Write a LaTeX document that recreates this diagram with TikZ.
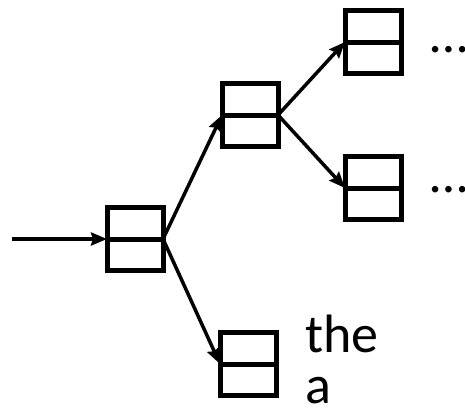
\documentclass[tikz,border=0pt]{standalone}
\usepackage{fontspec}
\setmainfont{Carlito}
\usetikzlibrary{arrows.meta}
\tikzset{
  cell/.style={draw=black, line width=5bp, minimum width=56bp, minimum height=63bp,
    inner sep=0pt, outer sep=0pt,
    path picture={\draw[line width=5bp] (path picture bounding box.west) -- (path picture bounding box.east);}},
  link/.style={line width=3.5bp, -{Stealth[length=16bp,width=13bp,inset=2bp]}},
  word/.style={inner sep=0pt, anchor=base west, font=\fontsize{54bp}{60bp}\selectfont}
}
\begin{document}
\begin{tikzpicture}[x=1bp,y=-1bp]
\useasboundingbox (0,0) rectangle (465,412);
\node[cell] (A) at (135,239) {};
\node[cell] (B) at (250,115) {};
\node[cell] (C) at (373,42) {};
\node[cell] (D) at (373,188) {};
\node[cell] (E) at (248,364) {};
\coordinate (in) at (12,239);
\draw[link, line width=4.5bp] (in) -- (A.west);
\draw[link] (A.east) -- (B.west);
\draw[link] (A.east) -- (E.west);
\draw[link] (B.east) -- (C.west);
\draw[link] (B.east) -- (D.west);
\node[word] (dotsC) at (430,52) {…};
\node[word] (dotsD) at (430,192) {…};
\node[word] (the) at (305,352) {the};
\node[word] (a) at (305,403) {a};
\end{tikzpicture}
\end{document}
